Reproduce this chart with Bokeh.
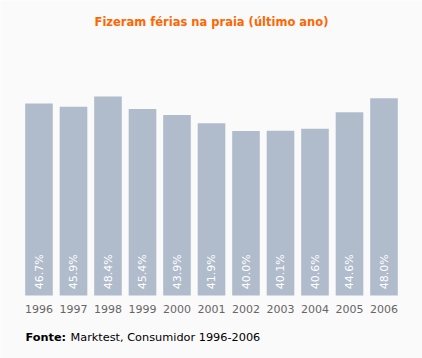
from bokeh.plotting import figure
from bokeh.models import ColumnDataSource, Range1d
from bokeh.embed import file_html
from bokeh.resources import INLINE
from bokeh.core.properties import value
import math

years = ["1996", "1997", "1998", "1999", "2000", "2001", "2002", "2003", "2004", "2005", "2006"]
values = [46.7, 45.9, 48.4, 45.4, 43.9, 41.9, 40.0, 40.1, 40.6, 44.6, 48.0]
title_text = "Fizeram férias na praia (último ano)"
source_bold = "Fonte:"
source_rest = "Marktest, Consumidor 1996-2006"

xs = list(range(len(years)))
labels = [("%.1f%%" % v) for v in values]
src = ColumnDataSource(dict(x=xs, top=values, lab=labels, yr=years,
                            ly=[1.5] * len(years), yy=[-3.4] * len(years)))

BG = "#fafafa"
FONT = "DejaVu Sans"
pad = 21.25 / 34.5

p = figure(width=422, height=358, x_range=Range1d(-0.5 - pad, len(years) - 0.5 + pad),
           y_range=Range1d(-15.33, 71.78), output_backend="svg", toolbar_location=None,
           min_border=0)
p.background_fill_color = BG
p.border_fill_color = BG
p.outline_line_color = None
p.grid.visible = False
p.axis.visible = False

p.vbar(x="x", top="top", width=0.8, source=src, color="#b0bccc", line_color=None)
p.text(x="x", y="ly", text="lab", source=src, angle=math.pi / 2, text_align="left",
       text_baseline="middle", text_color="white", text_font=value(FONT), text_font_size="11px")
p.text(x="x", y="yy", text="yr", source=src, text_align="center", text_baseline="middle",
       text_color="#666666", text_font=value(FONT), text_font_size="11px")

p.text(x=[(len(years) - 1) / 2], y=[66.55], text=[title_text], text_align="center",
       text_baseline="middle", text_color="#ff6600", text_font=value(FONT),
       text_font_size="11.5px", text_font_style="bold")
p.text(x=[-0.5 - pad + 25 / 34.5], y=[-10.2], text=[source_bold], text_align="left",
       text_baseline="middle", text_color="#000000", text_font=value(FONT),
       text_font_size="11.3px", text_font_style="bold")
p.text(x=[-0.5 - pad + 70 / 34.5], y=[-10.2], text=[source_rest], text_align="left",
       text_baseline="middle", text_color="#000000", text_font=value(FONT),
       text_font_size="11.3px")

open("out.html", "w").write(file_html(p, INLINE))
